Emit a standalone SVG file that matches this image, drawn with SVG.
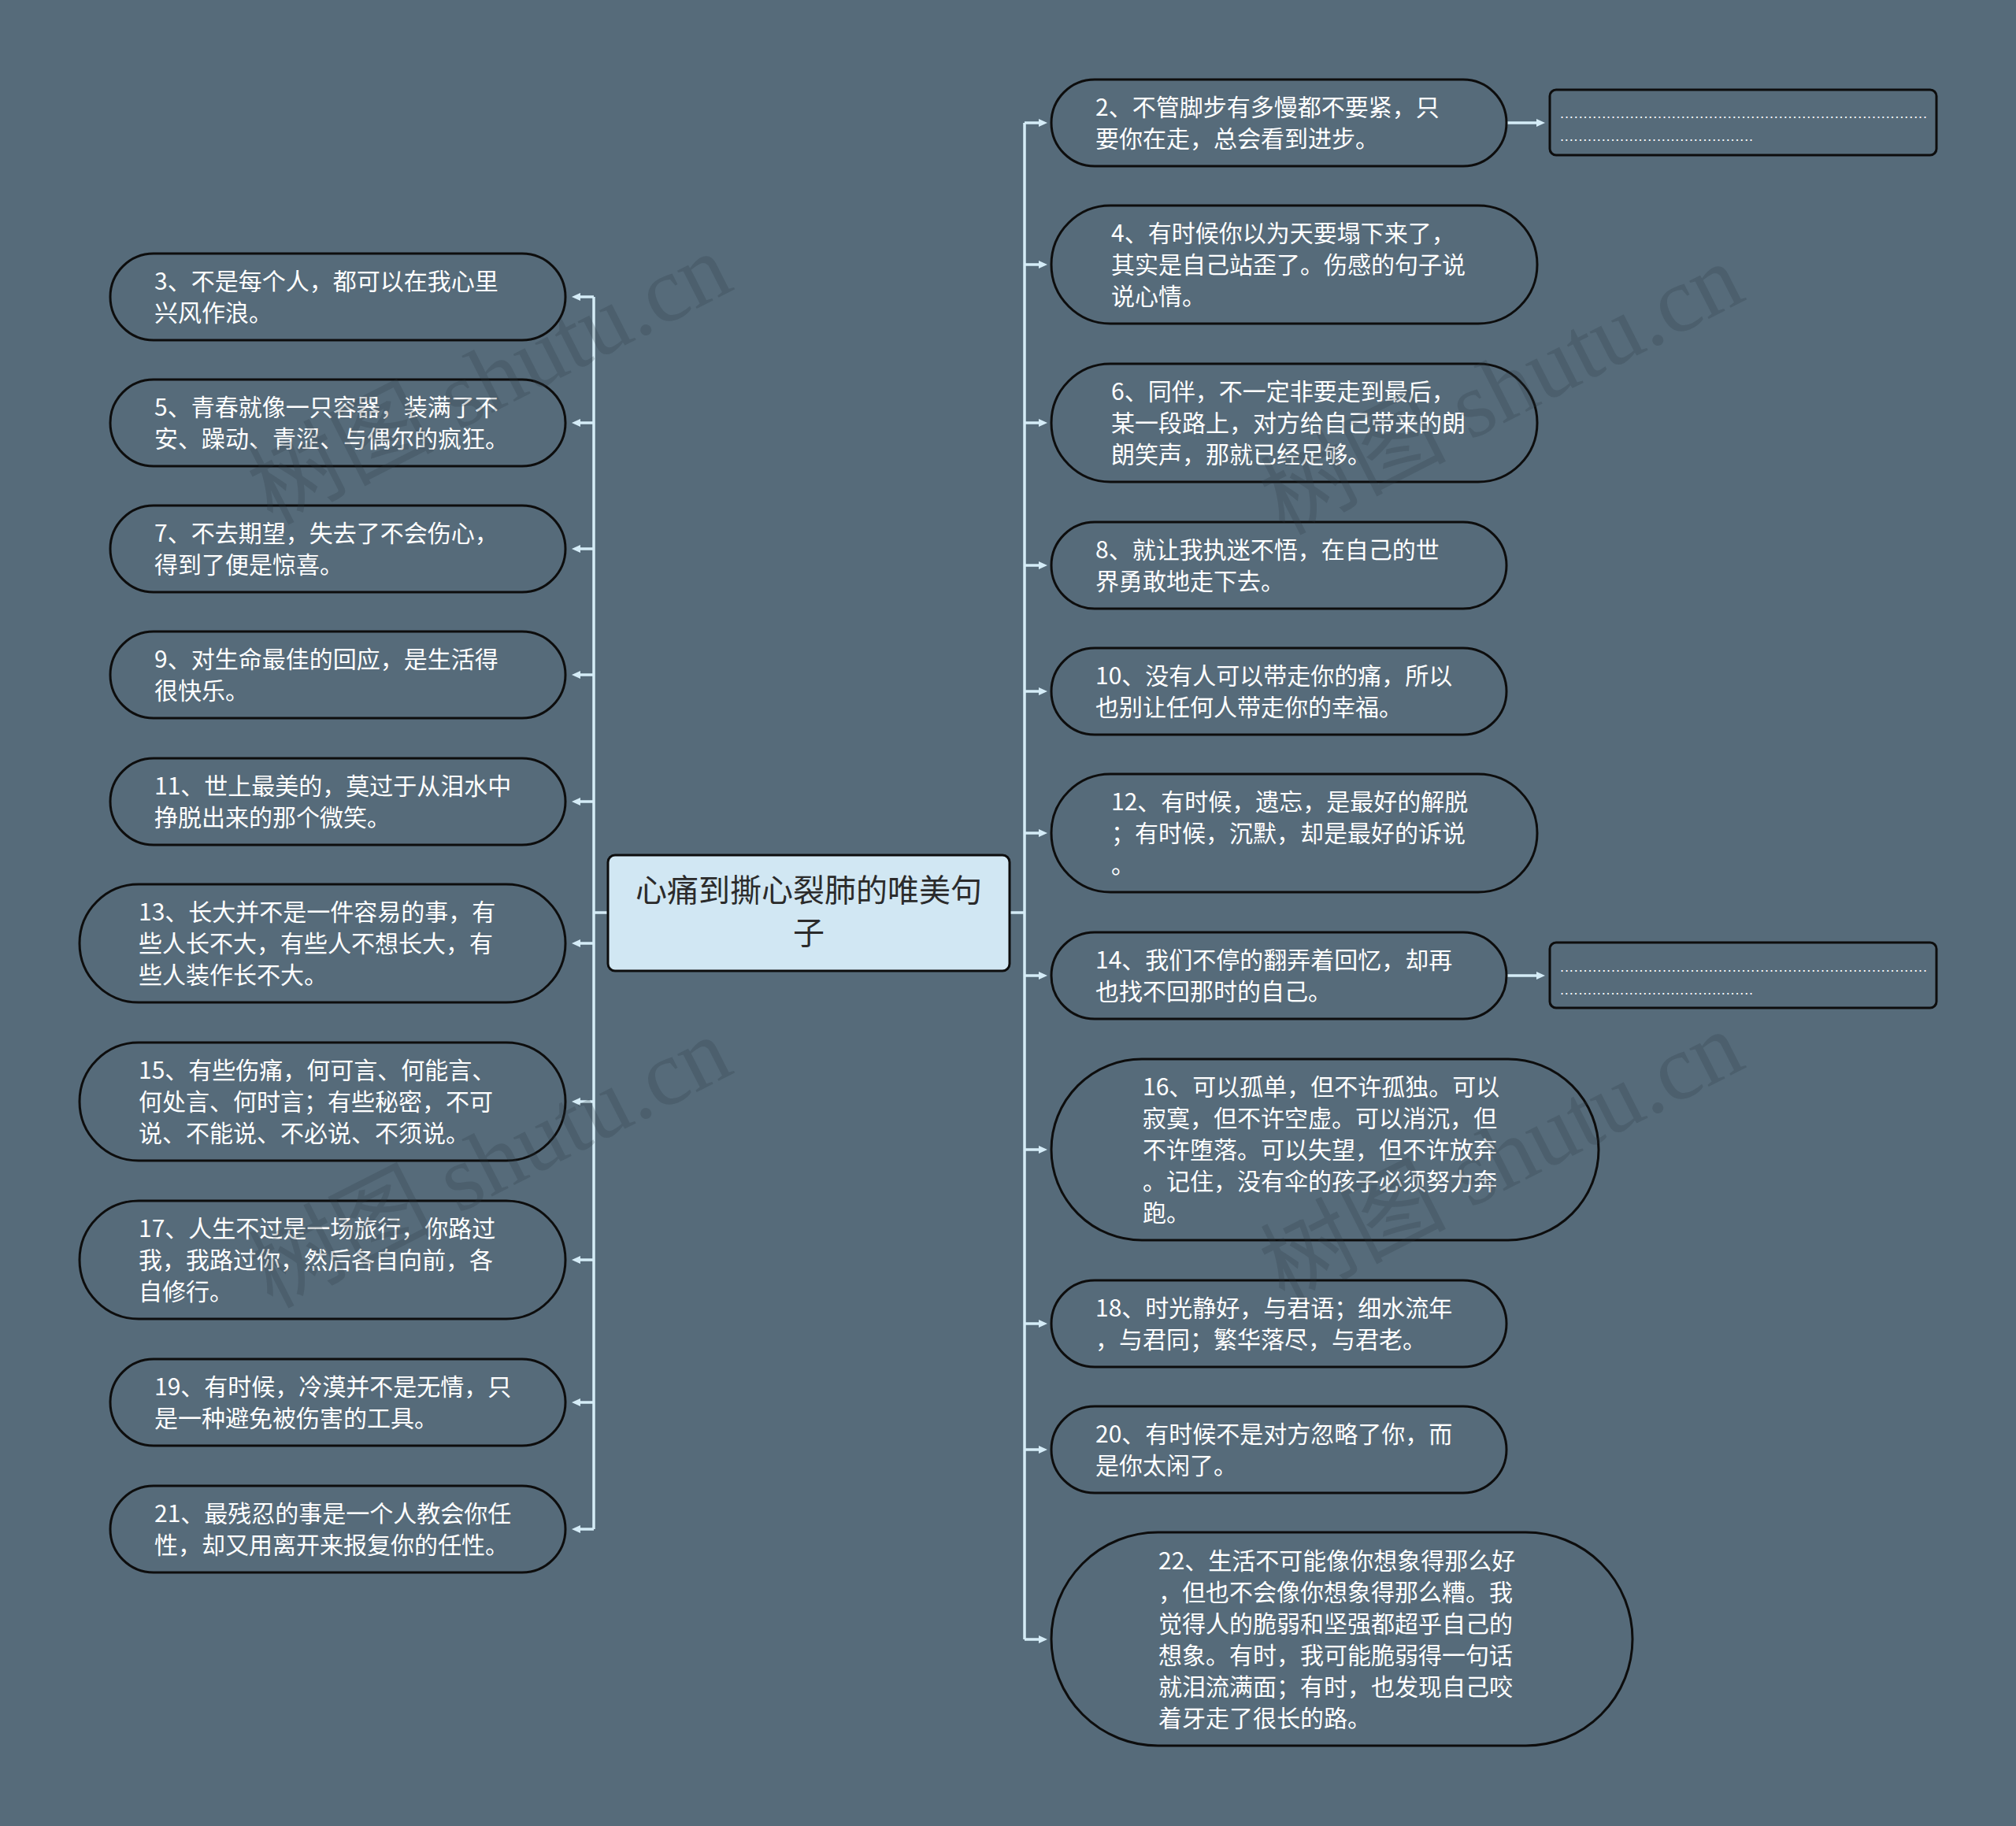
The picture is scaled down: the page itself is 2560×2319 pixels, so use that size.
<svg xmlns="http://www.w3.org/2000/svg" width="2560" height="2319" viewBox="0 0 2560 2319">
<defs>
<style>
.node rect{fill:#566B7A;stroke:#0d0d0d;stroke-width:3}
.t{font-family:"Noto Sans CJK SC","Noto Sans",sans-serif;font-size:30px;fill:#ffffff}
.ct{font-family:"Noto Sans CJK SC","Noto Sans",sans-serif;font-size:40px;fill:#2b2b2b;text-anchor:middle}
.conn path{stroke:#D5ECF7;stroke-width:3.5;fill:none}
.arr{marker-end:url(#ah)}
.dots{font-family:"Liberation Sans",sans-serif;font-size:18px;fill:#ffffff}
.wm{font-family:"Liberation Serif","Noto Sans CJK SC",serif;font-size:118px;fill:#2a3640;fill-opacity:0.22}
</style>
<marker id="ah" viewBox="0 0 11 10" markerWidth="11" markerHeight="10" refX="3" refY="5" orient="auto" markerUnits="userSpaceOnUse">
<path d="M0,0 L11,5 L0,10 z" fill="#D5ECF7"/>
</marker>
</defs>
<rect x="0" y="0" width="2560" height="2319" fill="#566B7A"/>

<g id="connectors" class="conn">
<path d="M772,1159 H754"/>
<path d="M754,377 V1942"/>
<path class="arr" d="M754,377 H734"/>
<path class="arr" d="M754,537 H734"/>
<path class="arr" d="M754,697 H734"/>
<path class="arr" d="M754,857 H734"/>
<path class="arr" d="M754,1018 H734"/>
<path class="arr" d="M754,1198 H734"/>
<path class="arr" d="M754,1399 H734"/>
<path class="arr" d="M754,1600 H734"/>
<path class="arr" d="M754,1781 H734"/>
<path class="arr" d="M754,1942 H734"/>
<path d="M1282,1159 H1301"/>
<path d="M1301,156 V2082"/>
<path class="arr" d="M1301,156 H1322"/>
<path class="arr" d="M1301,336 H1322"/>
<path class="arr" d="M1301,537 H1322"/>
<path class="arr" d="M1301,718 H1322"/>
<path class="arr" d="M1301,878 H1322"/>
<path class="arr" d="M1301,1058 H1322"/>
<path class="arr" d="M1301,1239 H1322"/>
<path class="arr" d="M1301,1460 H1322"/>
<path class="arr" d="M1301,1681 H1322"/>
<path class="arr" d="M1301,1841 H1322"/>
<path class="arr" d="M1301,2082 H1322"/>
<path class="arr" d="M1913,156 H1954"/>
<path class="arr" d="M1913,1239 H1954"/>
</g>

<g id="center">
<rect x="772" y="1086" width="510" height="147" rx="9" fill="#D1E7F3" stroke="#0d0d0d" stroke-width="3"/>
<text class="ct"><tspan x="1027" y="1145">心痛到撕心裂肺的唯美句</tspan><tspan x="1027" y="1199">子</tspan></text>
</g>

<g id="n3" class="node"><rect x="140" y="322" width="578" height="110" rx="55"/>
<text class="t"><tspan x="196" y="368">3、不是每个人，都可以在我心里</tspan><tspan x="196" y="408">兴风作浪。</tspan></text></g>
<g id="n5" class="node"><rect x="140" y="482" width="578" height="110" rx="55"/>
<text class="t"><tspan x="196" y="528">5、青春就像一只容器，装满了不</tspan><tspan x="196" y="568">安、躁动、青涩、与偶尔的疯狂。</tspan></text></g>
<g id="n7" class="node"><rect x="140" y="642" width="578" height="110" rx="55"/>
<text class="t"><tspan x="196" y="688">7、不去期望，失去了不会伤心，</tspan><tspan x="196" y="728">得到了便是惊喜。</tspan></text></g>
<g id="n9" class="node"><rect x="140" y="802" width="578" height="110" rx="55"/>
<text class="t"><tspan x="196" y="848">9、对生命最佳的回应，是生活得</tspan><tspan x="196" y="888">很快乐。</tspan></text></g>
<g id="n11" class="node"><rect x="140" y="963" width="578" height="110" rx="55"/>
<text class="t"><tspan x="196" y="1009">11、世上最美的，莫过于从泪水中</tspan><tspan x="196" y="1049">挣脱出来的那个微笑。</tspan></text></g>
<g id="n13" class="node"><rect x="101" y="1123" width="617" height="150" rx="75"/>
<text class="t"><tspan x="176" y="1169">13、长大并不是一件容易的事，有</tspan><tspan x="176" y="1209">些人长不大，有些人不想长大，有</tspan><tspan x="176" y="1249">些人装作长不大。</tspan></text></g>
<g id="n15" class="node"><rect x="101" y="1324" width="617" height="150" rx="75"/>
<text class="t"><tspan x="176" y="1370">15、有些伤痛，何可言、何能言、</tspan><tspan x="176" y="1410">何处言、何时言；有些秘密，不可</tspan><tspan x="176" y="1450">说、不能说、不必说、不须说。</tspan></text></g>
<g id="n17" class="node"><rect x="101" y="1525" width="617" height="150" rx="75"/>
<text class="t"><tspan x="176" y="1571">17、人生不过是一场旅行，你路过</tspan><tspan x="176" y="1611">我，我路过你，然后各自向前，各</tspan><tspan x="176" y="1651">自修行。</tspan></text></g>
<g id="n19" class="node"><rect x="140" y="1726" width="578" height="110" rx="55"/>
<text class="t"><tspan x="196" y="1772">19、有时候，冷漠并不是无情，只</tspan><tspan x="196" y="1812">是一种避免被伤害的工具。</tspan></text></g>
<g id="n21" class="node"><rect x="140" y="1887" width="578" height="110" rx="55"/>
<text class="t"><tspan x="196" y="1933">21、最残忍的事是一个人教会你任</tspan><tspan x="196" y="1973">性，却又用离开来报复你的任性。</tspan></text></g>

<g id="n2" class="node"><rect x="1335" y="101" width="578" height="110" rx="55"/>
<text class="t"><tspan x="1391" y="147">2、不管脚步有多慢都不要紧，只</tspan><tspan x="1391" y="187">要你在走，总会看到进步。</tspan></text></g>
<g id="n4" class="node"><rect x="1335" y="261" width="617" height="150" rx="75"/>
<text class="t"><tspan x="1411" y="307">4、有时候你以为天要塌下来了，</tspan><tspan x="1411" y="347">其实是自己站歪了。伤感的句子说</tspan><tspan x="1411" y="387">说心情。</tspan></text></g>
<g id="n6" class="node"><rect x="1335" y="462" width="617" height="150" rx="75"/>
<text class="t"><tspan x="1411" y="508">6、同伴，不一定非要走到最后，</tspan><tspan x="1411" y="548">某一段路上，对方给自己带来的朗</tspan><tspan x="1411" y="588">朗笑声，那就已经足够。</tspan></text></g>
<g id="n8" class="node"><rect x="1335" y="663" width="578" height="110" rx="55"/>
<text class="t"><tspan x="1391" y="709">8、就让我执迷不悟，在自己的世</tspan><tspan x="1391" y="749">界勇敢地走下去。</tspan></text></g>
<g id="n10" class="node"><rect x="1335" y="823" width="578" height="110" rx="55"/>
<text class="t"><tspan x="1391" y="869">10、没有人可以带走你的痛，所以</tspan><tspan x="1391" y="909">也别让任何人带走你的幸福。</tspan></text></g>
<g id="n12" class="node"><rect x="1335" y="983" width="617" height="150" rx="75"/>
<text class="t"><tspan x="1411" y="1029">12、有时候，遗忘，是最好的解脱</tspan><tspan x="1411" y="1069">；有时候，沉默，却是最好的诉说</tspan><tspan x="1411" y="1109">。</tspan></text></g>
<g id="n14" class="node"><rect x="1335" y="1184" width="578" height="110" rx="55"/>
<text class="t"><tspan x="1391" y="1230">14、我们不停的翻弄着回忆，却再</tspan><tspan x="1391" y="1270">也找不回那时的自己。</tspan></text></g>
<g id="n16" class="node"><rect x="1335" y="1345" width="695" height="230" rx="115"/>
<text class="t"><tspan x="1451" y="1391">16、可以孤单，但不许孤独。可以</tspan><tspan x="1451" y="1431">寂寞，但不许空虚。可以消沉，但</tspan><tspan x="1451" y="1471">不许堕落。可以失望，但不许放弃</tspan><tspan x="1451" y="1511">。记住，没有伞的孩子必须努力奔</tspan><tspan x="1451" y="1551">跑。</tspan></text></g>
<g id="n18" class="node"><rect x="1335" y="1626" width="578" height="110" rx="55"/>
<text class="t"><tspan x="1391" y="1672">18、时光静好，与君语；细水流年</tspan><tspan x="1391" y="1712">，与君同；繁华落尽，与君老。</tspan></text></g>
<g id="n20" class="node"><rect x="1335" y="1786" width="578" height="110" rx="55"/>
<text class="t"><tspan x="1391" y="1832">20、有时候不是对方忽略了你，而</tspan><tspan x="1391" y="1872">是你太闲了。</tspan></text></g>
<g id="n22" class="node"><rect x="1335" y="1946" width="738" height="271" rx="135.5"/>
<text class="t"><tspan x="1471" y="1993">22、生活不可能像你想象得那么好</tspan><tspan x="1471" y="2033">，但也不会像你想象得那么糟。我</tspan><tspan x="1471" y="2073">觉得人的脆弱和坚强都超乎自己的</tspan><tspan x="1471" y="2113">想象。有时，我可能脆弱得一句话</tspan><tspan x="1471" y="2153">就泪流满面；有时，也发现自己咬</tspan><tspan x="1471" y="2193">着牙走了很长的路。</tspan></text></g>

<g id="n2b" class="node"><rect x="1968" y="114" width="491" height="83" rx="8" stroke-width="2"/>
<text class="dots"><tspan x="1981" y="150" textLength="466" lengthAdjust="spacing">...............................................................................</tspan><tspan x="1981" y="179" textLength="245" lengthAdjust="spacing">..........................................</tspan></text></g>
<g id="n14b" class="node"><rect x="1968" y="1197" width="491" height="83" rx="8" stroke-width="2"/>
<text class="dots"><tspan x="1981" y="1234" textLength="466" lengthAdjust="spacing">...............................................................................</tspan><tspan x="1981" y="1263" textLength="245" lengthAdjust="spacing">..........................................</tspan></text></g>

<g id="watermark">
<text class="wm" transform="translate(345,667) rotate(-27)">树图 shutu.cn</text>
<text class="wm" transform="translate(1630,680) rotate(-27)">树图 shutu.cn</text>
<text class="wm" transform="translate(345,1662) rotate(-27)">树图 shutu.cn</text>
<text class="wm" transform="translate(1630,1655) rotate(-27)">树图 shutu.cn</text>
</g>
</svg>
